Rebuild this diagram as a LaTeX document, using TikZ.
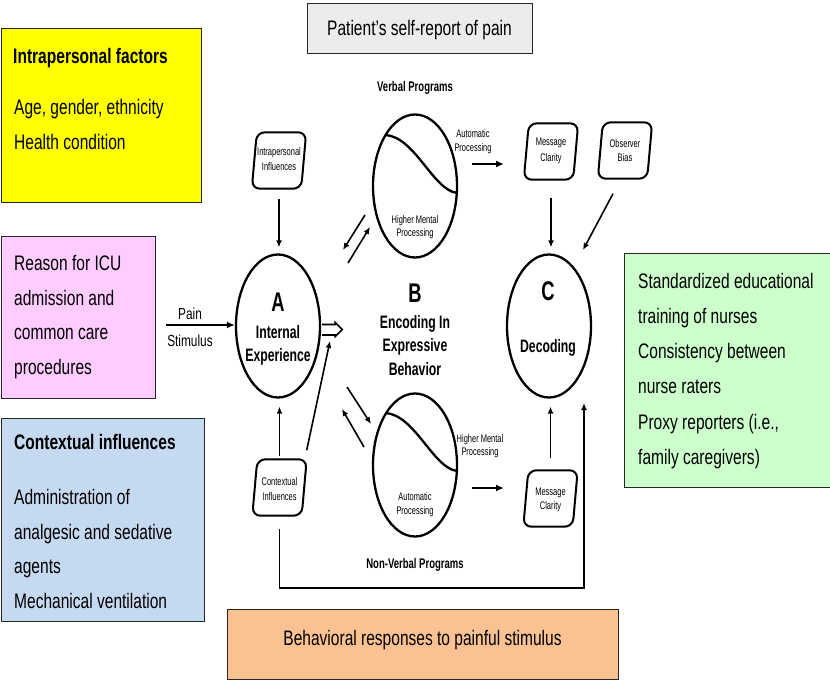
\documentclass[tikz,border=0pt]{standalone}
\usepackage{fontspec}
\setmainfont{Liberation Sans}[FakeStretch=0.74]
\newfontfamily\dfont{Liberation Sans}[FakeStretch=0.68]
\usetikzlibrary{shapes.geometric,arrows.meta,calc}
\definecolor{cyel}{RGB}{255,255,0}
\definecolor{cpink}{RGB}{255,204,255}
\definecolor{cblue}{RGB}{197,217,241}
\definecolor{cgray}{RGB}{236,236,236}
\definecolor{cgreen}{RGB}{204,255,204}
\definecolor{corange}{RGB}{250,194,146}
\newcommand\slbox[1]{\path[sline] (#1.south west) -- ($(#1.north west)+(5,0)$) -- (#1.north east) -- ($(#1.south east)+(-5,0)$) -- cycle;}
\begin{document}
\begin{tikzpicture}[x=1pt,y=-1pt,
  cbox/.style={draw=black!85, line width=1.3pt, inner sep=0pt, anchor=north west},
  btx/.style={anchor=base west, inner sep=0pt, font=\fontsize{21}{25}\selectfont},
  btc/.style={anchor=base, inner sep=0pt, font=\fontsize{21}{25}\selectfont},
  ell/.style={draw, ellipse, line width=2.3pt, minimum width=84pt, minimum height=143pt, inner sep=0pt},
  sbox/.style={minimum width=54pt, minimum height=56pt, inner sep=0pt},
  sline/.style={draw, line width=2pt, rounded corners=8pt},
  smt/.style={anchor=base, inner sep=0pt, font=\dfont\fontsize{11}{13}\selectfont},
  dtx/.style={anchor=base, inner sep=0pt, font=\dfont\bfseries\fontsize{18}{22}\selectfont},
  bigl/.style={anchor=base, inner sep=0pt, font=\dfont\bfseries\fontsize{27}{30}\selectfont},
  progt/.style={anchor=base, inner sep=0pt, font=\dfont\bfseries\fontsize{14}{16}\selectfont},
  paint/.style={anchor=base, inner sep=0pt, font=\fontsize{16}{18}\selectfont},
  arr/.style={line width=1.6pt, -{Latex[length=7pt,width=6pt]}},
  tarr/.style={line width=2.4pt, -{Latex[length=8pt,width=7pt]}},
  curv/.style={line width=2.3pt},
]
\useasboundingbox (0,0) rectangle (830,682);
\clip (0,0) rectangle (830,682);

% coloured boxes
\node[cbox, fill=cyel, minimum width=200pt, minimum height=174pt] (yel) at (1,28) {};
\node[btx, font=\bfseries\fontsize{21}{25}\selectfont] (yel1) at (13,64) {Intrapersonal factors};
\node[btx] (yel2) at (14,114.5) {Age, gender, ethnicity};
\node[btx] (yel3) at (14,149.5) {Health condition};

\node[cbox, fill=cpink, minimum width=154pt, minimum height=162pt] (pink) at (1,236) {};
\node[btx] (pk1) at (14,270) {Reason for ICU};
\node[btx] (pk2) at (14,305) {admission and};
\node[btx] (pk3) at (14,339.5) {common care};
\node[btx] (pk4) at (14,374) {procedures};

\node[cbox, fill=cblue, minimum width=203pt, minimum height=203pt] (blue) at (1,418) {};
\node[btx, font=\bfseries\fontsize{21}{25}\selectfont] (bl1) at (14,449) {Contextual influences};
\node[btx] (bl2) at (14,504) {Administration of};
\node[btx] (bl3) at (14,539) {analgesic and sedative};
\node[btx] (bl4) at (14,573.5) {agents};
\node[btx] (bl5) at (14,608) {Mechanical ventilation};

\node[cbox, fill=cgray, minimum width=225pt, minimum height=50pt] (gray) at (307,3) {};
\node[btc] (gr1) at (419.5,36) {Patient’s self-report of pain};

\node[cbox, fill=cgreen, minimum width=215pt, minimum height=234pt] (green) at (624,253) {};
\node[btx] (gn1) at (638,288) {Standardized educational};
\node[btx] (gn2) at (638,323) {training of nurses};
\node[btx] (gn3) at (638,358) {Consistency between};
\node[btx] (gn4) at (638,393.5) {nurse raters};
\node[btx] (gn5) at (638,429) {Proxy reporters (i.e.,};
\node[btx] (gn6) at (638,464) {family caregivers)};

\node[cbox, fill=corange, minimum width=391pt, minimum height=70pt] (orange) at (227,609) {};
\node[btc] (or1) at (422.5,645.5) {Behavioral responses to painful stimulus};

% ellipses
\node[ell] (A) at (278,326) {};
\node[ell] (Bt) at (415,186) {};
\node[ell] (Bb) at (415,465) {};
\node[ell] (C) at (549,326) {};

\draw[curv] (385.5,135) .. controls (415,137) and (433,190) .. (457,193);
\draw[curv] (385.5,413) .. controls (415,415) and (433,468) .. (457,471);

\node[bigl] (Al) at (278,311.5) {A};
\node[dtx] (A1) at (278,338) {Internal};
\node[dtx] (A2) at (278,361) {Experience};
\node[bigl] (Bl) at (415,302) {B};
\node[dtx] (B1) at (415,328.5) {Encoding In};
\node[dtx] (B2) at (415,351.5) {Expressive};
\node[dtx] (B3) at (415,375) {Behavior};
\node[bigl] (Cl) at (548,300) {C};
\node[dtx] (C1) at (548,352) {Decoding};

\node[progt] (vp) at (415,92) {Verbal Programs};
\node[progt] (nvp) at (415,568) {Non-Verbal Programs};

\node[smt] (t1a) at (473,138) {Automatic};
\node[smt] (t1b) at (473,152) {Processing};
\node[smt] (t2a) at (415,223) {Higher Mental};
\node[smt] (t2b) at (415,236.5) {Processing};
\node[smt] (t3a) at (480,442) {Higher Mental};
\node[smt] (t3b) at (480,455.5) {Processing};
\node[smt] (t4a) at (415,500) {Automatic};
\node[smt] (t4b) at (415,514) {Processing};

% small slanted boxes
\node[sbox] (ii) at (279,160.5) {};
\slbox{ii}
\node[smt] (ii1) at (279,156) {Intrapersonal};
\node[smt] (ii2) at (279,171) {Influences};

\node[sbox] (ci) at (279.5,487.5) {};
\slbox{ci}
\node[smt] (ci1) at (279.5,485) {Contextual};
\node[smt] (ci2) at (279.5,500) {Influences};

\node[sbox] (mc1) at (551,151.5) {};
\slbox{mc1}
\node[smt] (mc1a) at (551,146) {Message};
\node[smt] (mc1b) at (551,161) {Clarity};

\node[sbox] (ob) at (625,150.5) {};
\slbox{ob}
\node[smt] (ob1) at (625,147) {Observer};
\node[smt] (ob2) at (625,161) {Bias};

\node[sbox] (mc2) at (550.5,498.5) {};
\slbox{mc2}
\node[smt] (mc2a) at (550.5,495) {Message};
\node[smt] (mc2b) at (550.5,509) {Clarity};

% pain stimulus
\coordinate (ps) at (166,325);
\node[paint] (pain1) at (190,319) {Pain};
\node[paint] (pain2) at (190,346) {Stimulus};
\draw[tarr] (ps) -- (A.west |- ps);

% arrows into A
\draw[arr, shorten <=10pt, shorten >=6pt] (ii.south) -- (ii.south |- A.north);
\draw[arr, shorten <=3pt, shorten >=8pt] (ci.north) -- (ci.north |- A.south);
\coordinate (hin) at (330,341);
\draw[arr] ($(ci.north east)+(0,-9)$) -- (hin);

% hollow arrow out of A
\begin{scope}[shift={(A.east)}]
\draw[line width=1.6pt, fill=white, line join=miter] (1,-1.5) -- (14,-1.5) -- (14,-3.5) -- (21,3.5) -- (14,10.5) -- (14,9) -- (1,9);
\end{scope}

% double arrows A <-> B
\coordinate (d1s) at (365,215); \coordinate (d1e) at (343,250);
\coordinate (d2s) at (348,263); \coordinate (d2e) at (370,227);
\coordinate (d3s) at (347,387); \coordinate (d3e) at (371,424);
\coordinate (d4s) at (364,447); \coordinate (d4e) at (342,409);
\draw[arr] (d1s) -- (d1e);
\draw[arr] (d2s) -- (d2e);
\draw[arr] (d3s) -- (d3e);
\draw[arr] (d4s) -- (d4e);

% B -> message clarity
\coordinate (a1s) at (472,164); \coordinate (a1e) at (504,164);
\coordinate (a2s) at (472,488); \coordinate (a2e) at (504,488);
\draw[tarr] (a1s) -- (a1e);
\draw[tarr] (a2s) -- (a2e);

% into C
\draw[arr, shorten <=18pt, shorten >=6pt] (mc1.south) -- (mc1.south |- C.north);
\coordinate (obt) at (583,250);
\draw[arr] ($(ob.south)+(-12,15)$) -- (obt);
\draw[arr, shorten <=12pt, shorten >=8pt] (mc2.north) -- (mc2.north |- C.south);

% loop from contextual influences to C
\coordinate (lc) at (584,588);
\coordinate (cend) at (584,403);
\draw[arr] ([yshift=-13pt]ci.south) |- (lc) -- (cend);
\end{tikzpicture}
\end{document}
